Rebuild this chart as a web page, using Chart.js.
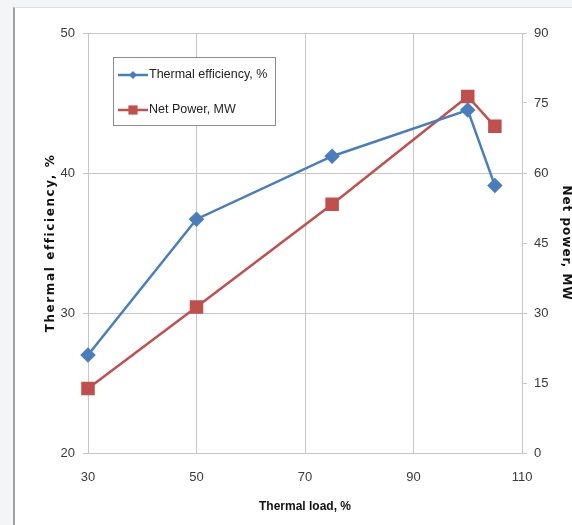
<!DOCTYPE html>
<html>
<head>
<meta charset="utf-8">
<script src="https://cdn.jsdelivr.net/npm/chart.js@4/dist/chart.umd.min.js"></script>
<style>
  html, body { margin: 0; padding: 0; background: #f3f5f7; }
  #panel {
    position: absolute; left: 13px; top: 7px; right: 0; bottom: 0;
    background: #ffffff;
    border-left: 2px solid #a3a3a3;
    border-top: 1px solid #dcdfe3;
  }
  #chart { position: absolute; left: 0; top: 0; }
</style>
</head>
<body>
<div id="panel"></div>
<canvas id="chart" width="572" height="525"></canvas>
<script>
// values
const loads = [30, 50, 75, 100, 105];
const efficiency = [27.0, 36.7, 41.2, 44.5, 39.1];
const netPower = [13.8, 31.3, 53.3, 76.4, 70.0];
const seriesNames = ['Thermal efficiency, %', 'Net Power, MW'];

const tickFont = "'Liberation Sans', Arial, sans-serif";
const gridColor = '#c6c6c6';
const tickColor = '#3a3a3a';

// the y titles in the original are letter-spaced
function spaceTitle(scale, spacing) {
  if (scale._spaced) return;
  const orig = scale.drawTitle.bind(scale);
  scale.drawTitle = (...args) => {
    const ctx = scale.ctx;
    const prev = ctx.letterSpacing;
    ctx.letterSpacing = spacing;
    orig(...args);
    ctx.letterSpacing = prev;
  };
  scale._spaced = true;
}

// legend box drawn inside the plot, like the original
const insideLegend = {
  id: 'insideLegend',
  afterDraw(chart) {
    const { ctx, chartArea } = chart;
    const x = chartArea.left + 25;
    const y = chartArea.top + 24;
    const w = 162;
    const h = 68;
    ctx.save();
    ctx.fillStyle = '#ffffff';
    ctx.fillRect(x, y, w, h);
    ctx.strokeStyle = '#8c8c8c';
    ctx.lineWidth = 1;
    ctx.strokeRect(x + 0.5, y + 0.5, w, h);

    chart.data.datasets.forEach((ds, i) => {
      const cy = y + 18 + i * 35;
      ctx.strokeStyle = ds.borderColor;
      ctx.lineWidth = 2.5;
      ctx.beginPath();
      ctx.moveTo(x + 5, cy);
      ctx.lineTo(x + 35, cy);
      ctx.stroke();
      ctx.fillStyle = ds.pointBackgroundColor;
      Chart.helpers.drawPoint(ctx, {
        pointStyle: ds.pointStyle,
        radius: i === 0 ? 4 : 6.5,
        borderWidth: 0,
      }, x + 20, cy);
      ctx.fillStyle = '#222';
      ctx.font = '12.5px ' + tickFont;
      ctx.textBaseline = 'middle';
      ctx.fillText(ds.label, x + 36, cy);
    });
    ctx.restore();
  },
};

new Chart(document.getElementById('chart'), {
  type: 'line',
  data: {
    datasets: [
      {
        label: seriesNames[0],
        data: loads.map((x, i) => ({ x, y: efficiency[i] })),
        yAxisID: 'y',
        borderColor: '#4a7ebb',
        backgroundColor: '#4a7ebb',
        pointBackgroundColor: '#4a7ebb',
        pointBorderColor: '#4a7ebb',
        pointStyle: 'rectRot',
        pointRadius: 6,
        borderWidth: 2.5,
        tension: 0,
        clip: false,
      },
      {
        label: seriesNames[1],
        data: loads.map((x, i) => ({ x, y: netPower[i] })),
        yAxisID: 'y1',
        borderColor: '#c0504d',
        backgroundColor: '#c0504d',
        pointBackgroundColor: '#c0504d',
        pointBorderColor: '#c0504d',
        pointStyle: 'rect',
        pointRadius: 7.8,
        borderWidth: 2.5,
        tension: 0,
        clip: false,
      },
    ],
  },
  options: {
    responsive: false,
    animation: false,
    devicePixelRatio: 1,
    layout: { padding: { top: 33, left: 0, right: 0, bottom: 0 } },
    plugins: {
      legend: { display: false },
      tooltip: { enabled: false },
    },
    scales: {
      x: {
        type: 'linear',
        min: 30,
        max: 110,
        ticks: {
          stepSize: 20,
          color: tickColor,
          font: { family: tickFont, size: 13 },
          padding: 17,
        },
        grid: { color: gridColor, drawTicks: false },
        border: { color: gridColor },
        title: {
          display: true,
          text: 'Thermal load, %',
          color: '#111',
          font: { family: tickFont, size: 12, weight: 'bold' },
          padding: { top: 0, bottom: 11 },
        },
        afterFit: (scale) => { scale.height = 72; },
      },
      y: {
        position: 'left',
        min: 20,
        max: 50,
        ticks: {
          stepSize: 10,
          color: tickColor,
          font: { family: tickFont, size: 13 },
          padding: 8,
        },
        grid: { color: gridColor, tickLength: 5 },
        border: { color: gridColor },
        title: {
          display: true,
          text: 'Thermal efficiency, %',
          color: '#111',
          font: { family: 'DejaVu Sans', size: 12, weight: 'bold', lineHeight: 1 },
          padding: { top: 45, bottom: 0 },
        },
        afterFit: (scale) => { scale.width = 88; spaceTitle(scale, '1.6px'); },
      },
      y1: {
        position: 'right',
        min: 0,
        max: 90,
        ticks: {
          stepSize: 15,
          color: tickColor,
          font: { family: tickFont, size: 13 },
          padding: 7,
        },
        grid: { color: gridColor, tickLength: 5, drawOnChartArea: false },
        border: { color: gridColor },
        title: {
          display: true,
          text: 'Net power, MW',
          color: '#111',
          font: { family: 'DejaVu Sans', size: 12, weight: 'bold', lineHeight: 1 },
          padding: { top: 0, bottom: 0 },
        },
        afterFit: (scale) => { scale.width = 50; spaceTitle(scale, '1px'); },
      },
    },
  },
  plugins: [insideLegend],
});
</script>
</body>
</html>
